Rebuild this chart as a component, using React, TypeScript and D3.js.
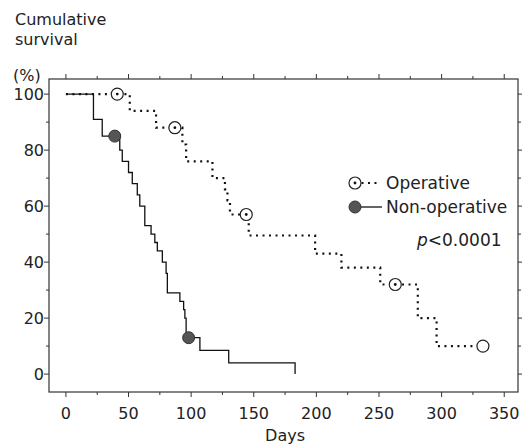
import * as d3 from "d3";

// Kaplan-Meier steps (day of event, % surviving after it)
const opDays = [0, 51, 72, 93, 96, 117, 127, 129, 131, 146, 199, 220, 251, 281, 296, 333];
const opSurv = [100, 94, 88, 82, 76, 70, 66, 62, 57, 49.5, 43, 38, 32, 20, 10, 10];
const opCensor = [41, 87, 144, 263, 333];

const nonDays = [0, 22, 29, 43, 45, 50, 53, 57, 59, 63, 68, 71, 73, 77, 80, 81, 91, 94, 95, 96, 107, 130, 183];
const nonSurv = [100, 91, 85, 80, 76, 72, 68, 64, 60, 53, 50, 47, 44, 40, 36, 29, 26, 23, 20, 13, 8.5, 4, 0];
const nonCensor = [39, 98];

const xTicks = [0, 50, 100, 150, 200, 250, 300, 350];
const yTicks = [0, 20, 40, 60, 80, 100];

const FONT = "'DejaVu Sans', sans-serif";
const INK = "#222";
const FRAME = { left: 49, right: 518, top: 79, bottom: 392 };

// survival value at a given day from a step series
const survAt = (days: number[], surv: number[], t: number) => {
  let v = surv[0];
  days.forEach((d, i) => {
    if (d <= t) v = surv[i];
  });
  return v;
};

const App = () => {
  const x = d3.scaleLinear().domain([-13.5, 361]).range([FRAME.left, FRAME.right]);
  const y = d3.scaleLinear().domain([-6.4, 105.4]).range([FRAME.bottom, FRAME.top]);

  const line = d3
    .line<[number, number]>()
    .x((d) => x(d[0]))
    .y((d) => y(d[1]))
    .curve(d3.curveStepAfter);

  const opPath = line(opDays.map((d, i) => [d, opSurv[i]]));
  const nonPath = line(nonDays.map((d, i) => [d, nonSurv[i]]));

  const xMinor = d3.range(0, 351, 25);
  const yMinor = d3.range(0, 101, 10);
  const lastOp = opDays[opDays.length - 1];

  return (
    <svg width={522} height={446} style={{ position: "absolute", left: 0, top: 0, background: "white" }}>
      <g fontFamily={FONT} fill={INK} fontSize={16}>
        <text x={15} y={25}>Cumulative</text>
        <text x={15} y={45}>survival</text>
        <text x={13} y={81}>(%)</text>
      </g>

      {/* frame */}
      <rect
        x={FRAME.left}
        y={FRAME.top}
        width={FRAME.right - FRAME.left}
        height={FRAME.bottom - FRAME.top}
        fill="none"
        stroke="#333"
        strokeWidth={1.2}
      />

      {/* ticks on all four sides, outward */}
      {xMinor.map((t) => {
        const len = t % 50 === 0 ? 5 : 3;
        return (
          <g key={"xt" + t} stroke="#333" strokeWidth={1}>
            <line x1={x(t)} x2={x(t)} y1={FRAME.bottom} y2={FRAME.bottom + len} />
            <line x1={x(t)} x2={x(t)} y1={FRAME.top} y2={FRAME.top - len} />
          </g>
        );
      })}
      {yMinor.map((t) => {
        const len = t % 20 === 0 ? 5 : 3;
        return (
          <g key={"yt" + t} stroke="#333" strokeWidth={1}>
            <line x1={FRAME.left} x2={FRAME.left - len} y1={y(t)} y2={y(t)} />
            <line x1={FRAME.right} x2={FRAME.right + len} y1={y(t)} y2={y(t)} />
          </g>
        );
      })}

      <g fontFamily={FONT} fontSize={16} fill={INK}>
        {xTicks.map((t) => (
          <text key={"xl" + t} x={x(t)} y={419} textAnchor="middle">{t}</text>
        ))}
        {yTicks.map((t) => (
          <text key={"yl" + t} x={44} y={y(t)} textAnchor="end" dominantBaseline="central">{t}</text>
        ))}
        <text x={x(175)} y={441} textAnchor="middle">Days</text>
      </g>

      {/* curves */}
      <path d={nonPath ?? ""} fill="none" stroke="#111" strokeWidth={1.3} />
      <path d={opPath ?? ""} fill="none" stroke="#111" strokeWidth={2.2} strokeDasharray="2,4.5" />

      {/* censor marks */}
      {opCensor.map((t) => (
        <g key={"oc" + t}>
          <circle cx={x(t)} cy={y(survAt(opDays, opSurv, t))} r={6} fill="white" stroke="#222" strokeWidth={1.2} />
          {t !== lastOp && (
            <circle cx={x(t)} cy={y(survAt(opDays, opSurv, t))} r={1.4} fill="#111" />
          )}
        </g>
      ))}
      {nonCensor.map((t) => (
        <circle
          key={"nc" + t}
          cx={x(t)}
          cy={y(survAt(nonDays, nonSurv, t))}
          r={6}
          fill="#555"
          stroke="#333"
          strokeWidth={1}
        />
      ))}

      {/* legend */}
      <g>
        <line x1={355} x2={380} y1={183} y2={183} stroke="#111" strokeWidth={2.2} strokeDasharray="2,4.5" />
        <circle cx={355} cy={183} r={6} fill="white" stroke="#222" strokeWidth={1.2} />
        <circle cx={355} cy={183} r={1.4} fill="#111" />
        <line x1={355} x2={382} y1={207} y2={207} stroke="#111" strokeWidth={1.3} />
        <circle cx={355} cy={207} r={6} fill="#555" stroke="#333" strokeWidth={1} />
        <g fontFamily={FONT} fontSize={17} fill={INK}>
          <text x={386} y={189}>Operative</text>
          <text x={386} y={213}>Non-operative</text>
          <text x={417} y={246}>
            <tspan fontStyle="italic">p</tspan>&lt;0.0001
          </text>
        </g>
      </g>
    </svg>
  );
};

export default App;
